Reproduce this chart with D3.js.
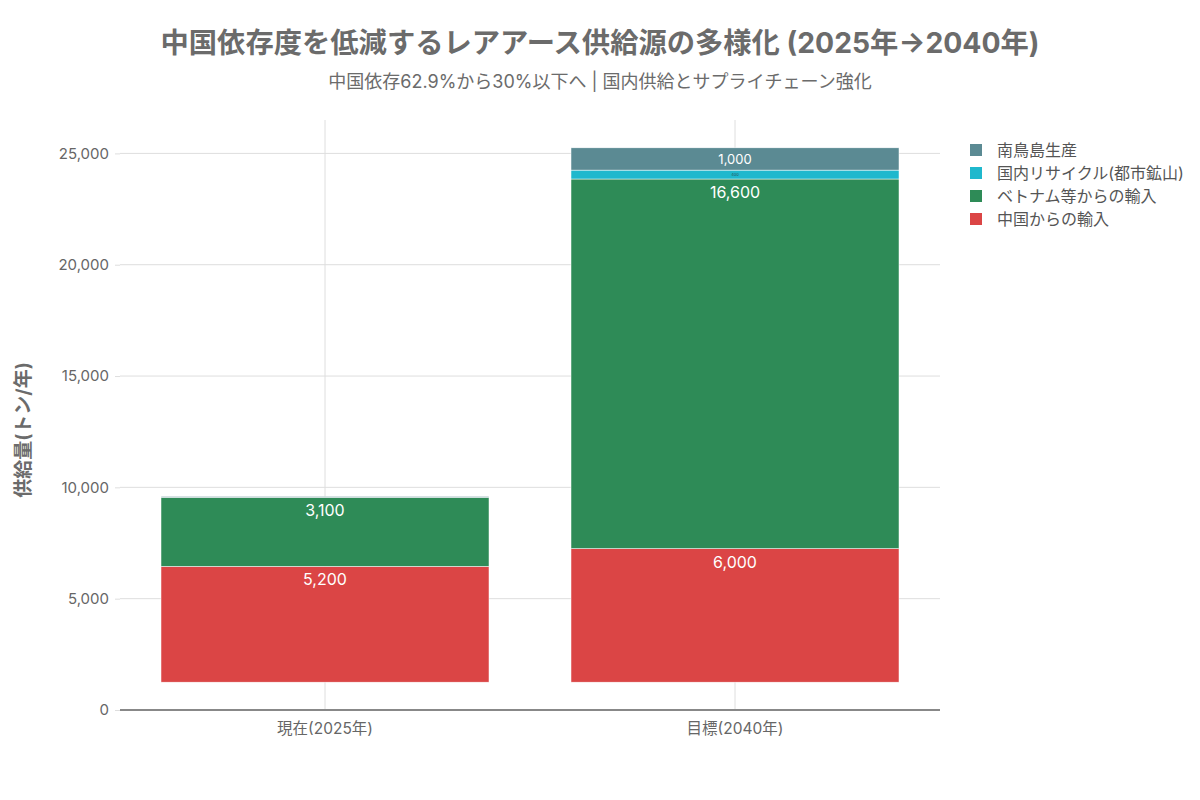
<html>
<head>
<meta charset="utf-8">
<script src="https://d3js.org/d3.v7.min.js"></script>
<style>
  body { margin: 0; background: #fff; }
  text { font-family: Inter, "Noto Sans CJK JP", sans-serif; }
</style>
</head>
<body>
<script>

// data
var categories = ["現在(2025年)", "目標(2040年)"];
var seriesNames = ["中国からの輸入", "ベトナム等からの輸入", "国内リサイクル(都市鉱山)", "南鳥島生産"];
var seriesColors = ["#db4545", "#2e8b57", "#1fb8cd", "#5b8a93"];
// the bars start above zero in the original
var barBase = [1250, 1250];
var chinaImport = [5200, 6000];
var vietnamImport = [3100, 16600];
var recycling = [0, 400];
var minamitori = [40, 1000];
var yTicks = [0, 5000, 10000, 15000, 20000, 25000];

var series = [chinaImport, vietnamImport, recycling, minamitori];

var width = 1200, height = 800;
var plotLeft = 120, plotRight = 940, plotTop = 120, plotBottom = 710;

var svg = d3.select("body").append("svg")
  .attr("width", width)
  .attr("height", height);

var x = d3.scaleBand().domain(categories).range([plotLeft, plotRight])
  .paddingInner(0.2).paddingOuter(0.1);
var y = d3.scaleLinear().domain([0, 26500]).range([plotBottom, plotTop]);

// grid
svg.append("g").selectAll("line")
  .data(yTicks.slice(1))
  .enter().append("line")
  .attr("x1", plotLeft).attr("x2", plotRight)
  .attr("y1", function(d) { return y(d); })
  .attr("y2", function(d) { return y(d); })
  .attr("stroke", "#dedede").attr("stroke-width", 1);

svg.append("g").selectAll("line")
  .data(categories)
  .enter().append("line")
  .attr("x1", function(d) { return x(d) + x.bandwidth() / 2; })
  .attr("x2", function(d) { return x(d) + x.bandwidth() / 2; })
  .attr("y1", plotTop).attr("y2", plotBottom)
  .attr("stroke", "#dedede").attr("stroke-width", 1);

// stacked bars
var stacks = categories.map(function(c, i) {
  var acc = barBase[i];
  return series.map(function(s, k) {
    var seg = { cat: c, k: k, v: s[i], y0: acc, y1: acc + s[i] };
    acc += s[i];
    return seg;
  });
});
var segs = d3.merge(stacks).filter(function(d) { return d.v > 0; });

svg.append("g").selectAll("rect")
  .data(segs)
  .enter().append("rect")
  .attr("x", function(d) { return x(d.cat); })
  .attr("width", x.bandwidth())
  .attr("y", function(d) { return y(d.y1); })
  .attr("height", function(d) { return y(d.y0) - y(d.y1); })
  .attr("fill", function(d) { return seriesColors[d.k]; })
  .attr("stroke", "#fff").attr("stroke-width", 0.5);

var comma = d3.format(",");
svg.append("g").selectAll("text")
  .data(segs.filter(function(d) { return d.v >= 300; }))
  .enter().append("text")
  .attr("x", function(d) { return x(d.cat) + x.bandwidth() / 2; })
  .attr("y", function(d) {
    var h = y(d.y0) - y(d.y1);
    if (h < 12) return y(d.y1) + h / 2 + 1.5;
    if (h < 30) return y(d.y1) + 16;
    return y(d.y1) + 19;
  })
  .attr("text-anchor", "middle")
  .attr("font-size", function(d) {
    var h = y(d.y0) - y(d.y1);
    return h < 12 ? 4 : (h < 30 ? 13 : 16);
  })
  .attr("fill", function(d) {
    var h = y(d.y0) - y(d.y1);
    return h < 12 ? "#2a5560" : "#fff";
  })
  .text(function(d) { return comma(d.v); });

// axes
var yAxis = svg.append("g")
  .attr("transform", "translate(" + plotLeft + ",0)")
  .call(d3.axisLeft(y).tickValues(yTicks).tickFormat(comma).tickSize(5).tickPadding(6));
yAxis.select(".domain").remove();
yAxis.selectAll("line").attr("stroke", "#dedede");
yAxis.selectAll("text").attr("font-size", 15).attr("fill", "#666")
  .style("font-family", "Inter, 'Noto Sans CJK JP', sans-serif");

svg.append("line")
  .attr("x1", plotLeft).attr("x2", plotRight)
  .attr("y1", plotBottom).attr("y2", plotBottom)
  .attr("stroke", "#888").attr("stroke-width", 2);

var xAxis = svg.append("g")
  .attr("transform", "translate(0," + plotBottom + ")")
  .call(d3.axisBottom(x).tickSize(0).tickPadding(13));
xAxis.select(".domain").remove();
xAxis.selectAll("text").attr("font-size", 15.5).attr("fill", "#666")
  .style("font-family", "Inter, 'Noto Sans CJK JP', sans-serif");

svg.append("text")
  .attr("transform", "translate(30,430) rotate(-90)")
  .attr("text-anchor", "middle")
  .attr("font-size", 19).attr("font-weight", "bold").attr("fill", "#6b6b6b")
  .text("供給量(トン/年)");

// titles
svg.append("text")
  .attr("x", 600).attr("y", 53)
  .attr("text-anchor", "middle")
  .attr("font-size", 28.3).attr("font-weight", "bold").attr("fill", "#6b6b6b")
  .text("中国依存度を低減するレアアース供給源の多様化 (2025年→2040年)");

svg.append("text")
  .attr("x", 600).attr("y", 88)
  .attr("text-anchor", "middle")
  .attr("font-size", 18).attr("fill", "#6b6b6b")
  .text("中国依存62.9%から30%以下へ | 国内供給とサプライチェーン強化");

// legend, top series first
var legendOrder = [3, 2, 1, 0];
var legend = svg.append("g").selectAll("g")
  .data(legendOrder)
  .enter().append("g")
  .attr("transform", function(d, i) { return "translate(970," + (150 + i * 23) + ")"; });
legend.append("rect")
  .attr("x", 0).attr("y", -6).attr("width", 12).attr("height", 12)
  .attr("fill", function(d) { return seriesColors[d]; });
legend.append("text")
  .attr("x", 27).attr("y", 5.5)
  .attr("font-size", 16).attr("fill", "#555")
  .text(function(d) { return seriesNames[d]; });

</script>
</body>
</html>
